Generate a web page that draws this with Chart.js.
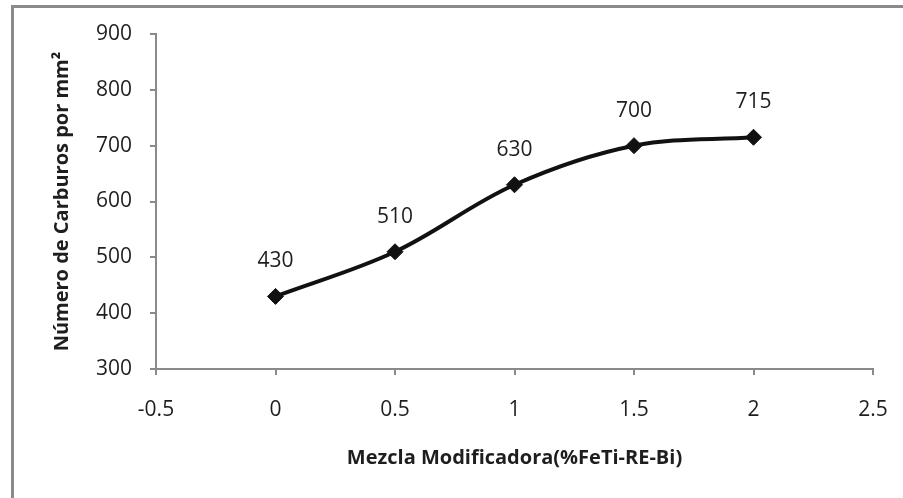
<!DOCTYPE html>
<html>
<head>
<meta charset="utf-8">
<script src="https://cdn.jsdelivr.net/npm/chart.js@4"></script>
<style>
  html, body { margin: 0; padding: 0; background: #fff; }
  #wrap { width: 903px; height: 498px; }
</style>
</head>
<body>
<div id="wrap"><canvas id="grafico" width="903" height="498"></canvas></div>
<script>
// datos
const mezcla = [0, 0.5, 1, 1.5, 2];
const carburos = [430, 510, 630, 700, 715];
const rangoX = [-0.5, 2.5];
const rangoY = [300, 900];
const tituloX = "Mezcla Modificadora(%FeTi-RE-Bi)";
const tituloY = "Número de Carburos por mm²";

const gris = "#8a8a8a";
const texto = "#1e1e1e";
const fuente = "'Open Sans'";

// marco gris del grafico (solo se ve arriba y a la izquierda)
const marco = {
  id: "marco",
  beforeDraw(chart) {
    const ctx = chart.ctx;
    ctx.save();
    ctx.strokeStyle = gris;
    ctx.lineWidth = 3;
    ctx.strokeRect(12.5, 6.5, 1000, 1000);
    ctx.restore();
  }
};

// etiquetas de valor encima de cada punto
const etiquetas = {
  id: "etiquetas",
  afterDatasetsDraw(chart) {
    const ctx = chart.ctx;
    const meta = chart.getDatasetMeta(0);
    ctx.save();
    ctx.font = "21px " + fuente;
    ctx.fillStyle = texto;
    ctx.textAlign = "center";
    ctx.textBaseline = "middle";
    meta.data.forEach((p, i) => {
      ctx.fillText(String(carburos[i]), p.x, p.y - 35);
    });
    ctx.restore();
  }
};

new Chart(document.getElementById("grafico"), {
  type: "scatter",
  data: {
    datasets: [{
      data: mezcla.map((x, i) => ({ x: x, y: carburos[i] })),
      showLine: true,
      tension: 0.35,
      borderColor: "#111",
      borderWidth: 4,
      pointStyle: "rectRot",
      pointRadius: 8,
      pointBackgroundColor: "#111",
      pointBorderColor: "#111",
      pointBorderWidth: 1
    }]
  },
  options: {
    responsive: false,
    animation: false,
    layout: { padding: { top: 34, right: 30, left: 0, bottom: 0 } },
    plugins: { legend: { display: false }, tooltip: { enabled: false } },
    scales: {
      x: {
        type: "linear",
        min: rangoX[0],
        max: rangoX[1],
        ticks: { stepSize: 0.5, color: texto, font: { family: fuente, size: 21 }, padding: 22,
          callback: v => String(v) },
        grid: { drawOnChartArea: false, tickLength: 6, color: gris, lineWidth: 2 },
        border: { color: gris, width: 2 },
        title: { display: true, text: tituloX, color: texto, font: { family: fuente, size: 20, weight: "bold" }, padding: { bottom: 28 } },
        afterFit(scale) {
          scale.height = 129;
          scale.paddingLeft = 0;
          scale.paddingRight = 0;
        }
      },
      y: {
        min: rangoY[0],
        max: rangoY[1],
        ticks: { stepSize: 100, color: texto, font: { family: fuente, size: 21 }, padding: 18 },
        grid: { drawOnChartArea: false, tickLength: 6, color: gris, lineWidth: 2 },
        border: { color: gris, width: 2 },
        title: { display: true, text: tituloY, color: texto, font: { family: fuente, size: 20, weight: "bold" }, padding: { top: 50 } },
        afterFit(scale) { scale.width = 156; }
      }
    }
  },
  plugins: [marco, etiquetas]
});
</script>
</body>
</html>
